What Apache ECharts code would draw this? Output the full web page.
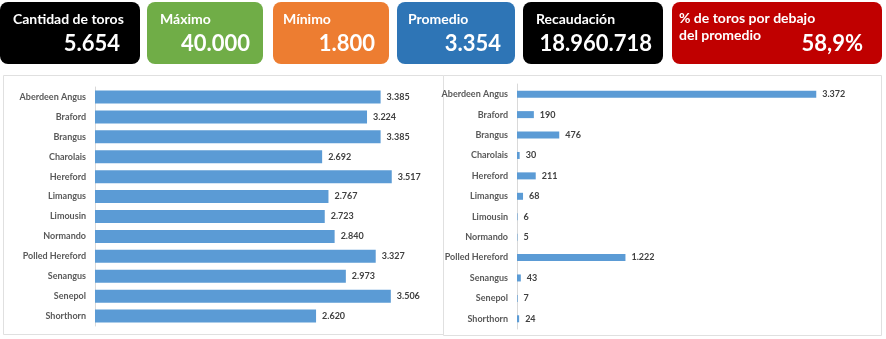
<!DOCTYPE html>
<html><head><meta charset="utf-8">
<script src="https://cdn.jsdelivr.net/npm/echarts@6/dist/echarts.min.js"></script>
<style>html,body{margin:0;padding:0;background:#fff}#c{width:886px;height:339px}</style>
</head><body><div id="c"></div>
<script>
const categories = ['Aberdeen Angus','Braford','Brangus','Charolais','Hereford','Limangus','Limousin','Normando','Polled Hereford','Senangus','Senepol','Shorthorn'];
const precioPromedio = [3385,3224,3385,2692,3517,2767,2723,2840,3327,2973,3506,2620];
const cantidadToros = [3372,190,476,30,211,68,6,5,1222,43,7,24];
const kpiTitles = ['Cantidad de toros','Máximo','Mínimo','Promedio','Recaudación','% de toros por debajo\ndel promedio'];
const kpiValues = ['5.654','40.000','1.800','3.354','18.960.718','58,9%'];

// layout / style (kept separate from data)
const kpiColors = ['#000000','#70ad47','#ed7d31','#2e75b6','#000000','#c00000'];
const kpiBoxes = [[0,140],[147,116],[273,116],[397,118],[523,140],[672,210]]; // x, width
const kpiTitlePad = [13,13,10,11,13,7];
const kpiValueRight = [120,250,375,501,652,863];
const FONT = 'Lato, "Open Sans", sans-serif';

function fmt(v){ return String(v).replace(/\B(?=(\d{3})+(?!\d))/g,'.'); }

const graphics = [];
// panel frames
graphics.push({type:'rect', shape:{x:3.5,y:75.5,width:440,height:259}, style:{fill:'#fff',stroke:'#e0e0e0',lineWidth:1}, z:-10});
graphics.push({type:'rect', shape:{x:443.5,y:75.5,width:438,height:260}, style:{fill:'#fff',stroke:'#e0e0e0',lineWidth:1}, z:-10});
kpiTitles.forEach((t,i)=>{
  const [x,w] = kpiBoxes[i];
  graphics.push({type:'rect', shape:{x:x,y:2,width:w,height:62,r:8}, style:{fill:kpiColors[i]}, z:1});
  graphics.push({type:'text', x:x+kpiTitlePad[i], y: i===5 ? 10 : 11, style:{text:t, fill:'#fff', font:'bold 14px '+FONT, textVerticalAlign:'top', lineHeight:17}, z:2});
  graphics.push({type:'text', x:kpiValueRight[i], y:44, style:{text:kpiValues[i], fill:'#fff', font:'bold 22px '+FONT, textAlign:'right', textVerticalAlign:'middle'}, z:2});
});

const catLabel = {color:'#595959', fontSize:9, fontWeight:'bold', fontFamily:FONT, margin:9};
const valLabel = {show:true, position:'right', distance:6, color:'#404040', fontSize:9, fontWeight:'bold', fontFamily:FONT, formatter:p=>fmt(p.value)};

const option = {
  animation:false,
  graphic: graphics,
  grid:[
    {left:95, top:87, width:337.5, height:239},
    {left:517, top:84, width:355, height:245}
  ],
  xAxis:[
    {gridIndex:0, type:'value', min:0, max:4000, show:false},
    {gridIndex:1, type:'value', min:0, max:4000, show:false}
  ],
  yAxis:[
    {gridIndex:0, type:'category', data:categories, inverse:true, axisTick:{show:false}, axisLine:{lineStyle:{color:'#d9d9d9'}}, axisLabel:catLabel},
    {gridIndex:1, type:'category', data:categories, inverse:true, axisTick:{show:false}, axisLine:{lineStyle:{color:'#d9d9d9'}}, axisLabel:catLabel}
  ],
  series:[
    {type:'bar', xAxisIndex:0, yAxisIndex:0, data:precioPromedio, barWidth:13, itemStyle:{color:'#5b9bd5'}, label:valLabel},
    {type:'bar', xAxisIndex:1, yAxisIndex:1, data:cantidadToros, barWidth:7, itemStyle:{color:'#5b9bd5'}, label:valLabel}
  ]
};
const chart = echarts.init(document.getElementById('c'), null, {renderer:'canvas'});
chart.setOption(option);
</script></body></html>
